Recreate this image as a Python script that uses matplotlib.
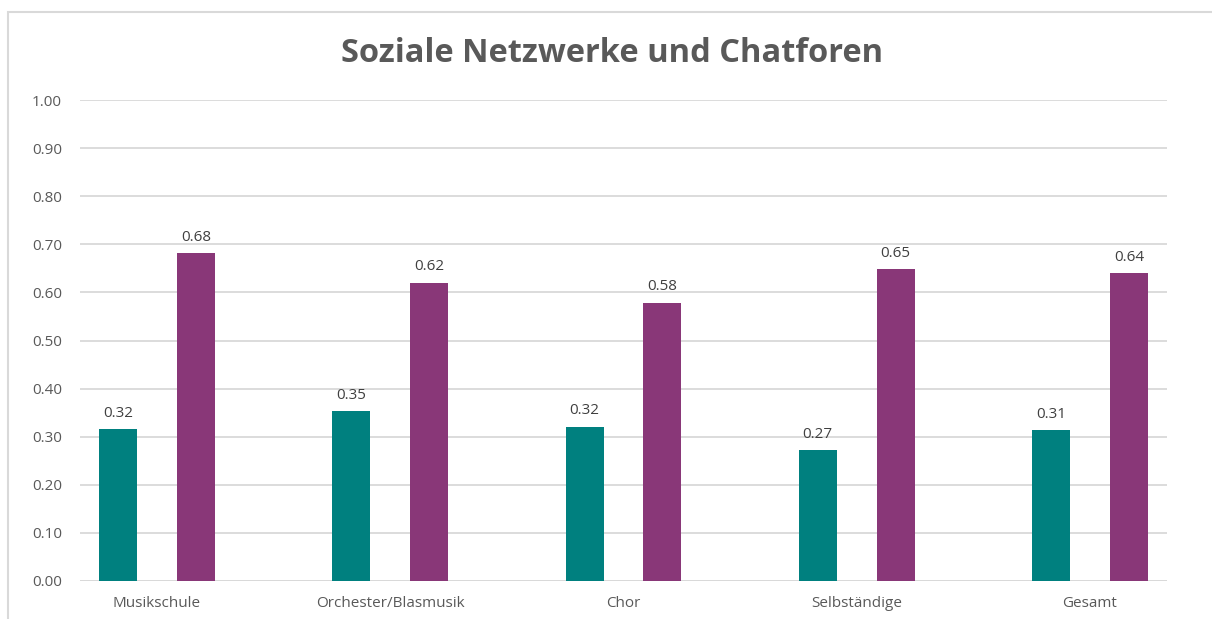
import matplotlib
matplotlib.use("Agg")
import matplotlib.pyplot as plt
from matplotlib.patches import Rectangle
import numpy as np

categories = ["Musikschule", "Orchester/Blasmusik", "Chor", "Selbständige", "Gesamt"]
series_a = [0.316, 0.353, 0.321, 0.272, 0.314]
series_b = [0.682, 0.620, 0.579, 0.648, 0.640]
yticks = [0.0, 0.1, 0.2, 0.3, 0.4, 0.5, 0.6, 0.7, 0.8, 0.9, 1.0]

plt.rcParams['font.family'] = ['Open Sans', 'DejaVu Sans']
W, H = 1212, 619
fig = plt.figure(figsize=(W/100, H/100), dpi=100)

# chart border (top and left visible)
fig.patches.append(Rectangle((8/W, -0.1), 1.2, (H-12)/H + 0.1, transform=fig.transFigure,
                             fill=False, edgecolor='#D9D9D9', linewidth=1.5))

ax = fig.add_axes([80/W, 38/H, (1167-80)/W, 481/H])
x = np.arange(len(categories))
bw = 0.163
off = 0.167
ba = ax.bar(x - off, series_a, bw, color='#00807F', zorder=3)
bb = ax.bar(x + off, series_b, bw, color='#893778', zorder=3)
for bars, vals in ((ba, series_a), (bb, series_b)):
    for r, v in zip(bars, vals):
        ax.annotate(f"{v:.2f}", (r.get_x() + r.get_width()/2, v), xytext=(0, 6),
                    textcoords='offset points', ha='center', va='bottom',
                    fontsize=11, color='#404040')

ax.set_xlim(-0.33, 4.33)
ax.set_ylim(0, 1.0)
ax.set_yticks(yticks)
ax.set_yticklabels([f"{t:.2f}" for t in yticks])
ax.set_xticks(x)
ax.set_xticklabels(categories)
ax.tick_params(axis='y', length=0, pad=13, labelsize=11, labelcolor='#595959')
ax.tick_params(axis='x', length=0, pad=11, labelsize=11, labelcolor='#595959')
ax.grid(axis='y', color='#D9D9D9', linewidth=1.3, zorder=0)
for s in ax.spines.values():
    s.set_visible(False)
ax.axhline(0, color='#D9D9D9', linewidth=1.3, zorder=2)

fig.text(612/W, 1 - 53/H, "Soziale Netzwerke und Chatforen", ha='center', va='center',
         fontsize=23.5, fontweight='bold', color='#595959')

fig.savefig("out.png", dpi=100)
